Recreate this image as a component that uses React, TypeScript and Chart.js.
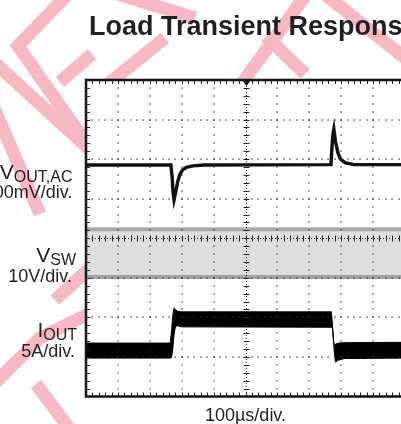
import { useEffect, useRef } from 'react';
import { Chart, registerables } from 'chart.js';

Chart.register(...registerables);

// ---- scope screen: 10 horizontal divisions, 8 vertical divisions (centre = 0)
const TIME_DIVS = [0, 10];
const AMPL_DIVS = [-4, 4];

// ---- VOUT,AC trace (time in div, amplitude in div)
const VOUT_T = [0, 2.66, 2.70, 2.73, 2.76, 2.80, 2.88, 2.95, 3.02, 3.15, 3.35, 3.70, 7.68, 7.71, 7.74, 7.77, 7.82, 7.90, 7.98, 8.12, 8.40, 10];
const VOUT_V = [1.85, 1.85, 1.55, 1.15, 0.97, 1.12, 1.45, 1.62, 1.72, 1.79, 1.83, 1.85, 1.86, 2.30, 2.62, 2.76, 2.45, 2.15, 2.00, 1.91, 1.86, 1.86];

// ---- VSW switching band envelope
const VSW_T = [0, 10];
const VSW_HI = [0.23, 0.23];
const VSW_LO = [-0.98, -0.98];

// ---- IOUT trace envelope (noisy band)
const IOUT_T = [0, 2.64, 2.68, 2.72, 2.76, 2.80, 2.86, 3.00, 7.69, 7.72, 7.75, 7.78, 7.82, 7.92, 8.10, 10];
const IOUT_HI = [-2.65, -2.65, -2.35, -1.95, -1.76, -1.80, -1.84, -1.86, -1.86, -2.10, -2.55, -2.70, -2.68, -2.65, -2.64, -2.63];
const IOUT_LO = [-3.03, -3.03, -3.02, -2.80, -2.45, -2.24, -2.21, -2.24, -2.25, -2.25, -2.40, -2.85, -3.13, -3.08, -3.04, -3.03];

// ---- texts
const TITLE = 'Load Transient Response';
const X_SCALE_LABEL = '100\u00b5s/div.';
const CH_NAMES = [
  ['V', 'OUT,AC'],
  ['V', 'SW'],
  ['I', 'OUT'],
];
const CH_SCALES = ['100mV/div.', '10V/div.', '5A/div.'];

// decorative watermark strokes (canvas px)
const WATERMARK: number[][][] = [
  [[70, -8], [18, 46], [90, 148]],
  [[60, 82], [92, 54]],
  [[-6, 62], [90, 150]],
  [[-6, 108], [40, 214]],
  [[98, 92], [165, 38]],
  [[118, -6], [195, 18]],
  [[318, -22], [240, 86]],
  [[322, -8], [410, 62]],
  [[266, 36], [305, 74]],
  [[-6, 384], [40, 338], [92, 312]],
  [[55, 300], [92, 266]],
  [[36, 384], [72, 432]],
];

const FONT = "'Liberation Sans', Arial, Helvetica, sans-serif";

const pts = (t: number[], v: number[]) => t.map((x, i) => ({ x, y: v[i] }));

const backdrop = {
  id: 'backdrop',
  beforeDraw(chart: any) {
    const { ctx, chartArea } = chart;
    ctx.save();
    ctx.fillStyle = '#ffffff';
    ctx.fillRect(0, 0, chart.width, chart.height);
    ctx.strokeStyle = '#f6b9c0';
    ctx.lineWidth = 13;
    ctx.lineJoin = 'miter';
    ctx.lineCap = 'butt';
    for (const s of WATERMARK) {
      ctx.beginPath();
      s.forEach((p, i) => (i ? ctx.lineTo(p[0], p[1]) : ctx.moveTo(p[0], p[1])));
      ctx.stroke();
    }
    ctx.fillStyle = '#ffffff';
    ctx.fillRect(chartArea.left, chartArea.top, chartArea.right - chartArea.left, chartArea.bottom - chartArea.top);
    ctx.restore();
  },
};

const scopeGrid = {
  id: 'scopeGrid',
  afterDatasetsDraw(chart: any) {
    const { ctx, chartArea, scales } = chart;
    const { left, top, right, bottom } = chartArea;
    const xs = scales.x;
    const ys = scales.y;
    ctx.save();
    ctx.fillStyle = '#2a2a2a';
    // dotted grid lines
    for (let i = 1; i < 10; i++) {
      if (i === 5) continue;
      const px = Math.round(xs.getPixelForValue(i));
      for (let k = 1; k < 40; k++) {
        const py = ys.getPixelForValue(-4 + k * 0.2);
        ctx.fillRect(px - 0.6, Math.round(py) - 0.6, 1.3, 1.3);
      }
    }
    for (let j = -3; j <= 3; j++) {
      if (j === 0) continue;
      const py = Math.round(ys.getPixelForValue(j));
      for (let k = 1; k < 50; k++) {
        const px = xs.getPixelForValue(k * 0.2);
        ctx.fillRect(Math.round(px) - 0.6, py - 0.6, 1.3, 1.3);
      }
    }
    // centre axes with minor ticks
    const cx = Math.round(xs.getPixelForValue(5)) + 0.5;
    const cy = Math.round(ys.getPixelForValue(0)) + 0.5;
    ctx.strokeStyle = '#222';
    ctx.lineWidth = 1;
    ctx.setLineDash([1, 2]);
    ctx.beginPath();
    ctx.moveTo(cx, top);
    ctx.lineTo(cx, bottom);
    ctx.moveTo(left, cy);
    ctx.lineTo(right, cy);
    ctx.stroke();
    ctx.setLineDash([]);
    ctx.beginPath();
    for (let k = 1; k < 40; k++) {
      const py = Math.round(ys.getPixelForValue(-4 + k * 0.2)) + 0.5;
      ctx.moveTo(cx - 3, py);
      ctx.lineTo(cx + 3, py);
    }
    for (let k = 1; k < 50; k++) {
      const px = Math.round(xs.getPixelForValue(k * 0.2)) + 0.5;
      ctx.moveTo(px, cy - 3);
      ctx.lineTo(px, cy + 3);
    }
    // border minor ticks
    for (let k = 1; k < 50; k++) {
      const px = Math.round(xs.getPixelForValue(k * 0.2)) + 0.5;
      ctx.moveTo(px, top);
      ctx.lineTo(px, top + 4);
      ctx.moveTo(px, bottom);
      ctx.lineTo(px, bottom - 4);
    }
    for (let k = 1; k < 40; k++) {
      const py = Math.round(ys.getPixelForValue(-4 + k * 0.2)) + 0.5;
      ctx.moveTo(left, py);
      ctx.lineTo(left + 4, py);
    }
    ctx.stroke();
    // frame
    ctx.strokeStyle = '#151515';
    ctx.lineWidth = 2.5;
    ctx.strokeRect(left, top, right - left, bottom - top);
    // trigger marker
    ctx.fillStyle = '#111';
    ctx.beginPath();
    ctx.moveTo(cx - 4.5, top);
    ctx.lineTo(cx + 4.5, top);
    ctx.lineTo(cx, top + 6);
    ctx.closePath();
    ctx.fill();
    ctx.restore();
  },
};

const texts = {
  id: 'texts',
  afterDraw(chart: any) {
    const { ctx, scales } = chart;
    ctx.save();
    ctx.fillStyle = '#231f20';
    ctx.textBaseline = 'alphabetic';
    ctx.textAlign = 'left';
    ctx.font = `bold 27px ${FONT}`;
    ctx.fillText(TITLE, 89, 35);

    const nameRight = [72.5, 76, 77];
    const nameBase = [179, 262, 337];
    const scaleRight = [72.5, 72, 75];
    const scaleBase = [198, 282, 357];
    CH_NAMES.forEach((nm, i) => {
      ctx.font = `21px ${FONT}`;
      const w1 = ctx.measureText(nm[0]).width;
      ctx.font = `16px ${FONT}`;
      const w2 = ctx.measureText(nm[1]).width;
      const x0 = nameRight[i] - w1 - w2;
      ctx.font = `21px ${FONT}`;
      ctx.fillText(nm[0], x0, nameBase[i]);
      ctx.font = `16px ${FONT}`;
      ctx.fillText(nm[1], x0 + w1, nameBase[i] + 3);
      ctx.font = `18px ${FONT}`;
      ctx.textAlign = 'right';
      ctx.fillText(CH_SCALES[i], scaleRight[i], scaleBase[i]);
      ctx.textAlign = 'left';
    });
    ctx.font = `18px ${FONT}`;
    ctx.textAlign = 'center';
    ctx.fillText(X_SCALE_LABEL, scales.x.getPixelForValue(5), 421);
    ctx.restore();
  },
};

export default function App() {
  const ref = useRef<HTMLCanvasElement>(null);
  useEffect(() => {
    document.body.style.margin = '0';
    const canvas = ref.current as HTMLCanvasElement;
    const chart = new Chart(canvas, {
      type: 'line',
      data: {
        datasets: [
          {
            label: 'VOUT,AC',
            data: pts(VOUT_T, VOUT_V),
            borderColor: '#111111',
            borderWidth: 3.4,
            pointRadius: 0,
            fill: false,
            tension: 0,
          },
          {
            label: 'IOUT low',
            data: pts(IOUT_T, IOUT_LO),
            borderColor: '#000000',
            borderWidth: 1,
            pointRadius: 0,
            fill: false,
            tension: 0,
          },
          {
            label: 'IOUT high',
            data: pts(IOUT_T, IOUT_HI),
            borderColor: '#000000',
            backgroundColor: '#000000',
            borderWidth: 1,
            pointRadius: 0,
            fill: '-1',
            tension: 0,
          },
          {
            label: 'VSW low',
            data: pts(VSW_T, VSW_LO),
            borderColor: '#a2a2a2',
            borderWidth: 4,
            pointRadius: 0,
            fill: false,
            tension: 0,
          },
          {
            label: 'VSW high',
            data: pts(VSW_T, VSW_HI),
            borderColor: '#ababab',
            backgroundColor: '#dedede',
            borderWidth: 4,
            pointRadius: 0,
            fill: '-1',
            tension: 0,
          },
        ],
      },
      options: {
        animation: false,
        responsive: false,
        devicePixelRatio: 1,
        layout: { padding: { left: 86, top: 80, right: 35, bottom: 27.5 } },
        scales: {
          x: { type: 'linear', min: TIME_DIVS[0], max: TIME_DIVS[1], display: false },
          y: { type: 'linear', min: AMPL_DIVS[0], max: AMPL_DIVS[1], display: false },
        },
        plugins: {
          legend: { display: false },
          tooltip: { enabled: false },
          title: { display: false },
        },
      },
      plugins: [backdrop, scopeGrid, texts],
    });
    return () => chart.destroy();
  }, []);
  return (
    <div style={{ width: 401, height: 424, overflow: 'hidden', position: 'relative', background: '#fff' }}>
      <canvas ref={ref} width={440} height={424} style={{ display: 'block', width: 440, height: 424 }} />
    </div>
  );
}
